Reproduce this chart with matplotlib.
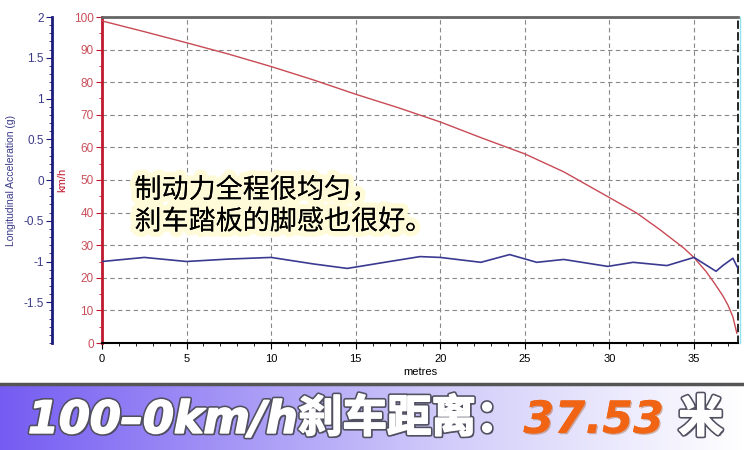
import numpy as np
import matplotlib
matplotlib.use('Agg')
import matplotlib.pyplot as plt
import matplotlib.patheffects as pe
from matplotlib.lines import Line2D

plt.rcParams['font.family'] = ['Liberation Sans', 'DejaVu Sans']

# speed trace (km/h) vs distance (m)
dist_speed = [0, 2.5, 5, 7.5, 10, 12.5, 15, 17.5, 20, 22.5, 25, 27.3, 30,
              31.6, 33, 34.4, 35, 35.7, 36.2, 36.7, 37, 37.3, 37.53]
speed_kmh = [98.8, 95.5, 92.1, 88.6, 84.8, 80.7, 76.3, 72.2, 67.8, 62.8, 58.0, 52.5, 44.6,
             39.9, 34.7, 29.1, 26.2, 22.0, 18.4, 14.5, 11.7, 8.0, 3.0]

# longitudinal acceleration (g) vs distance (m)
dist_acc = [0, 2.5, 5, 7.5, 10, 12.5, 14.5, 17, 18.8, 20, 22.4, 24.1, 25.7, 27.3,
            29.9, 31.4, 33.4, 35, 36.3, 36.7, 37.3, 37.6]
acc_g = [-1.0, -0.95, -1.0, -0.97, -0.95, -1.03, -1.085, -1.0, -0.94, -0.95, -1.01, -0.915,
         -1.01, -0.975, -1.06, -1.01, -1.05, -0.95, -1.12, -1.05, -0.96, -1.085]

speed_ticks = list(range(0, 101, 10))
acc_ticks = [2, 1.5, 1, 0.5, 0, -0.5, -1, -1.5]
x_ticks = list(range(0, 36, 5))

note_lines = '制动力全程很均匀，\n刹车踏板的脚感也很好。'
banner_parts = ['100–0km/h', '刹车距离：', '37.53', ' 米']

red = '#c0182e'
red_txt = '#c8505a'
navy = '#1c1c7a'
navy_txt = '#3a3a8a'

W, H = 744, 450
fig = plt.figure(figsize=(W / 100, H / 100), dpi=100)
fig.patch.set_facecolor('white')

x0, x1, ytop, ybot = 102, 738, 17, 343
ax = fig.add_axes([x0 / W, (H - ybot) / H, (x1 - x0) / W, (ybot - ytop) / H])
ax.set_xlim(0, 37.6)
ax.set_ylim(0, 100)
ax.set_xticks(x_ticks)
ax.set_xticks(np.arange(0, 38, 1), minor=True)
ax.set_yticks(speed_ticks)
ax.set_yticks(np.arange(0, 101, 5), minor=True)
ax.grid(which='major', linestyle=(0, (4, 3)), color='#888888', linewidth=0.8)
ax.tick_params(axis='x', labelsize=8, length=4, color='black', pad=4)
ax.tick_params(axis='x', which='minor', length=2)
ax.tick_params(axis='y', colors=red, labelcolor=red_txt, labelsize=8.5, length=4, pad=2)
ax.tick_params(axis='y', which='minor', length=2, colors=red)
ax.spines['left'].set_color(red)
ax.spines['left'].set_linewidth(2)
ax.spines['bottom'].set_linewidth(1.5)
ax.spines['top'].set_color('#666666')
ax.spines['top'].set_linewidth(2)
ax.spines['right'].set_linestyle((0, (4, 3)))
ax.spines['right'].set_linewidth(1.2)
ax.set_xlabel('metres', fontsize=8, labelpad=2)
ax.set_ylabel('km/h', color=red, fontsize=8, labelpad=5)

ax.plot(dist_speed, speed_kmh, color='#c84a55', linewidth=1.0, zorder=4)

ax2 = ax.twinx()
ax2.set_ylim(-2, 2)
ax2.spines['left'].set_visible(True)
ax2.spines['left'].set_position(('axes', (52 - x0) / (x1 - x0)))
ax2.spines['left'].set_color(navy)
ax2.spines['left'].set_linewidth(2)
ax2.spines['right'].set_visible(False)
ax2.spines['top'].set_visible(False)
ax2.spines['bottom'].set_visible(False)
ax2.yaxis.set_ticks_position('left')
ax2.yaxis.set_label_position('left')
ax2.set_yticks(acc_ticks)
ax2.set_yticklabels(['{:g}'.format(v) for v in acc_ticks])
ax2.set_yticks(np.arange(-2, 2.01, 0.1), minor=True)
ax2.tick_params(axis='y', colors=navy, labelcolor=navy_txt, labelsize=8.5, length=4, pad=2)
ax2.tick_params(axis='y', which='minor', length=2, colors=navy)
ax2.set_ylabel('Longitudinal Acceleration (g)', color=navy_txt, fontsize=7.5, labelpad=5)
ax2.plot(dist_acc, acc_g, color='#3a3a92', linewidth=1.2, zorder=5)

# cyan edge line at the right
fig.add_artist(Line2D([740 / W, 740 / W], [(H - ybot) / H, (H - ytop) / H],
                      color='#8fe3ee', linewidth=1))

ax.text(0.051, 0.42, note_lines, transform=ax.transAxes, fontsize=19.5,
        family=['Noto Sans CJK SC', 'DejaVu Sans'], color='black',
        va='center', ha='left', linespacing=1.22, zorder=6,
        path_effects=[pe.withStroke(linewidth=8, foreground='#fffbd8'), pe.Normal()])

# bottom banner
bax = fig.add_axes([0, 0, 1, 66 / H])
grad = np.linspace(0, 1, 400)
c_left = np.array([0.46, 0.36, 0.95])
c_mid = np.array([0.82, 0.80, 0.98])
c_right = np.array([1.0, 1.0, 1.0])
cols = np.where(grad[:, None] < 0.6,
                c_left + (c_mid - c_left) * (grad[:, None] / 0.6),
                c_mid + (c_right - c_mid) * ((grad[:, None] - 0.6) / 0.4))
bax.imshow(cols[None, :, :], aspect='auto', extent=[0, 1, 0, 1])
bax.set_xlim(0, 1)
bax.set_ylim(0, 1)
bax.axis('off')
fig.add_artist(Line2D([0, 1], [66 / H, 66 / H], color='#555555', linewidth=2.5))

shadow = [pe.withSimplePatchShadow(offset=(1.5, -1.5), shadow_rgbFace='#303040', alpha=0.7),
          pe.withStroke(linewidth=3.5, foreground='#505060'),
          pe.withStroke(linewidth=1.2, foreground='white'),
          pe.Normal()]
t1 = bax.text(28 / W, 0.26, banner_parts[0], fontsize=32, fontweight='bold', style='italic',
              family=['DejaVu Sans'], color='white', va='baseline', ha='left',
              path_effects=shadow)
t2 = bax.annotate(banner_parts[1], xy=(1, 0), xycoords=t1, xytext=(0, 0),
                  textcoords='offset points', fontsize=32, fontweight='bold',
                  family=['Noto Sans CJK SC'], color='white', va='bottom', ha='left',
                  path_effects=shadow)
t3 = bax.annotate(banner_parts[2], xy=(1, 0), xycoords=t2, xytext=(2, 0),
                  textcoords='offset points', fontsize=32, fontweight='bold', style='italic',
                  family=['DejaVu Sans'], color='#f06414', va='bottom', ha='left',
                  path_effects=[pe.withSimplePatchShadow(offset=(1, -1), shadow_rgbFace='#a05020',
                                                         alpha=0.4), pe.Normal()])
t4 = bax.annotate(banner_parts[3], xy=(1, 0), xycoords=t3, xytext=(3, 0),
                  textcoords='offset points', fontsize=32, fontweight='bold',
                  family=['Noto Sans CJK SC'], color='white', va='bottom', ha='left',
                  path_effects=shadow)

fig.savefig('out.png', dpi=100)
